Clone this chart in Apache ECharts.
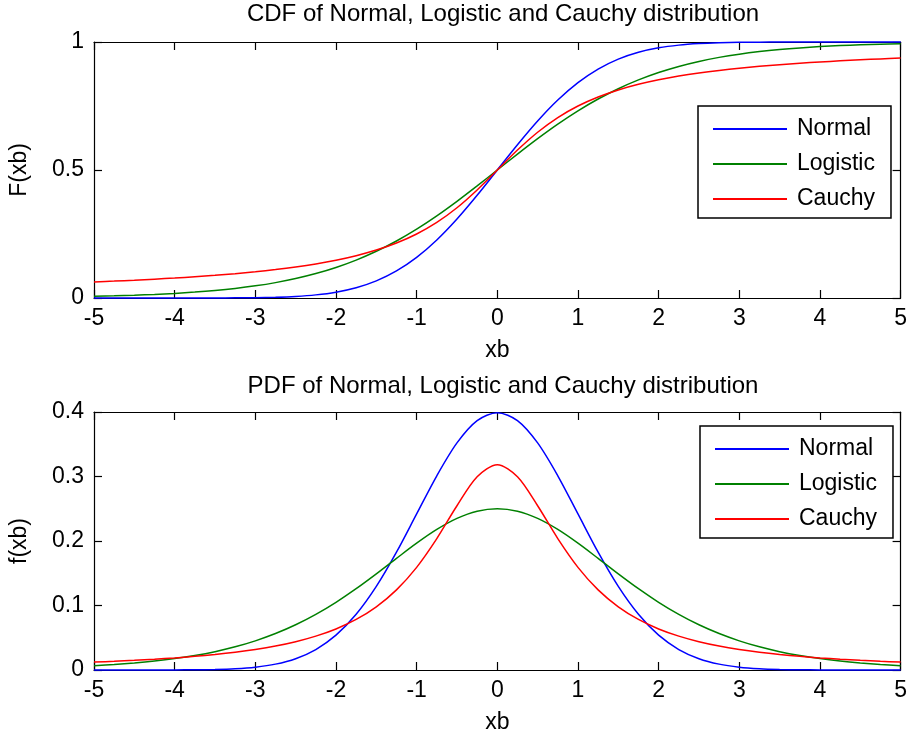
<!DOCTYPE html>
<html>
<head>
<meta charset="utf-8">
<script src="https://cdn.jsdelivr.net/npm/echarts@6/dist/echarts.min.js"></script>
<style>html,body{margin:0;padding:0;background:#fff}#c{width:910px;height:740px}</style>
</head>
<body>
<div id="c"></div>
<script>
// x values
var xs = [-5,-4.75,-4.5,-4.25,-4,-3.75,-3.5,-3.25,-3,-2.75,-2.5,-2.25,-2,-1.75,-1.5,-1.25,-1,-0.75,-0.5,-0.25,0,0.25,0.5,0.75,1,1.25,1.5,1.75,2,2.25,2.5,2.75,3,3.25,3.5,3.75,4,4.25,4.5,4.75,5];
// CDF values
var normalCdf = [0.0000003,0.000001,0.0000034,0.0000107,0.0000317,0.0000884,0.000233,0.000577,0.00135,0.00298,0.00621,0.01222,0.02275,0.04006,0.06681,0.10565,0.15866,0.22663,0.30854,0.40129,0.5,0.59871,0.69146,0.77337,0.84134,0.89435,0.93319,0.95994,0.97725,0.98778,0.99379,0.99702,0.99865,0.99942,0.99977,0.99991,0.99997,0.99999,1,1,1];
var logisticCdf = [0.00669,0.00858,0.01099,0.01406,0.01799,0.02298,0.02931,0.03732,0.04743,0.06009,0.07586,0.09535,0.11920,0.14805,0.18243,0.22270,0.26894,0.32082,0.37754,0.43782,0.5,0.56218,0.62246,0.67918,0.73106,0.77730,0.81757,0.85195,0.88080,0.90465,0.92414,0.93991,0.95257,0.96268,0.97069,0.97702,0.98201,0.98594,0.98901,0.99142,0.99331];
var cauchyCdf = [0.06283,0.06605,0.06960,0.07363,0.07798,0.08295,0.08859,0.09502,0.10242,0.11102,0.12112,0.13312,0.14758,0.16525,0.18717,0.21477,0.25,0.29517,0.35242,0.42202,0.5,0.57798,0.64758,0.70483,0.75,0.78523,0.81283,0.83475,0.85242,0.86688,0.87888,0.88898,0.89758,0.90498,0.91141,0.91705,0.92202,0.92637,0.93040,0.93395,0.93717];
// PDF values
var normalPdf = [0.0000015,0.000005,0.000016,0.00005,0.00013,0.00035,0.00087,0.00203,0.00443,0.00909,0.01753,0.03174,0.05399,0.08628,0.12952,0.18265,0.24197,0.30114,0.35207,0.38667,0.39894,0.38667,0.35207,0.30114,0.24197,0.18265,0.12952,0.08628,0.05399,0.03174,0.01753,0.00909,0.00443,0.00203,0.00087,0.00035,0.00013,0.00005,0.000016,0.000005,0.0000015];
var logisticPdf = [0.00665,0.00851,0.01087,0.01386,0.01766,0.02245,0.02845,0.03593,0.04518,0.05648,0.07010,0.08626,0.10499,0.12613,0.14915,0.17310,0.19661,0.21789,0.23500,0.24613,0.25,0.24613,0.23500,0.21789,0.19661,0.17310,0.14915,0.12613,0.10499,0.08626,0.07010,0.05648,0.04518,0.03593,0.02845,0.02245,0.01766,0.01386,0.01087,0.00851,0.00665];
var cauchyPdf = [0.01224,0.01351,0.01498,0.01670,0.01872,0.02113,0.02402,0.02753,0.03183,0.03717,0.04390,0.05251,0.06366,0.07835,0.09794,0.12422,0.15915,0.20372,0.25465,0.29959,0.31831,0.29959,0.25465,0.20372,0.15915,0.12422,0.09794,0.07835,0.06366,0.05251,0.04390,0.03717,0.03183,0.02753,0.02402,0.02113,0.01872,0.01670,0.01498,0.01351,0.01224];
var seriesNames = ['Normal','Logistic','Cauchy'];
var titles = ['CDF of Normal, Logistic and Cauchy distribution','PDF of Normal, Logistic and Cauchy distribution'];
var xTicks = {min:-5, max:5, interval:1};
var yTicksTop = {min:0, max:1, interval:0.5};
var yTicksBottom = {min:0, max:0.4, interval:0.1};

var FONT = '"Liberation Sans", Arial, sans-serif';
var FS = 23;
var colors = ['#0000ff','#008000','#ff0000'];

function pairs(vals){ return xs.map(function(x,i){ return [x, vals[i]]; }); }

function xAx(gi, pos, showLabel){
  return {
    type:'value', gridIndex:gi, position:pos, min:xTicks.min, max:xTicks.max, interval:xTicks.interval,
    name: showLabel ? 'xb' : '', nameLocation:'middle', nameGap:41,
    nameTextStyle:{fontFamily:FONT, fontSize:FS, color:'#000'},
    axisLine:{show:true, onZero:false, lineStyle:{color:'#000', width:1.2}},
    axisTick:{show:true, inside:true, length:8, lineStyle:{color:'#000', width:1.2}},
    axisLabel:{show:showLabel, fontFamily:FONT, fontSize:FS, color:'#000', margin:9},
    splitLine:{show:false}
  };
}
function yAx(gi, pos, t, name, showLabel){
  return {
    type:'value', gridIndex:gi, position:pos, min:t.min, max:t.max, interval:t.interval,
    name: showLabel ? name : '', nameLocation:'middle', nameGap:63,
    nameTextStyle:{fontFamily:FONT, fontSize:FS, color:'#000'},
    axisLine:{show:true, onZero:false, lineStyle:{color:'#000', width:1.2}},
    axisTick:{show:true, inside:true, length:8, lineStyle:{color:'#000', width:1.2}},
    axisLabel:{show:showLabel, fontFamily:FONT, fontSize:FS, color:'#000', margin:10},
    splitLine:{show:false}
  };
}
function legendFor(gi, left, top){
  return {
    orient:'vertical', left:left, top:top,
    data: seriesNames.map(function(n){ return {name:n}; }),
    icon:'rect', itemWidth:74, itemHeight:2, itemGap:12,
    padding:[11.5,16,7.5,15],
    backgroundColor:'#fff', borderColor:'#000', borderWidth:1.5,
    textStyle:{fontFamily:FONT, fontSize:FS, color:'#000', lineHeight:23, padding:[0,0,0,5]},
    selectedMode:false
  };
}
var cdfSets = [normalCdf, logisticCdf, cauchyCdf];
var pdfSets = [normalPdf, logisticPdf, cauchyPdf];
var series = [];
[cdfSets, pdfSets].forEach(function(sets, gi){
  sets.forEach(function(vals, i){
    series.push({
      type:'line', name:seriesNames[i], xAxisIndex:gi*2, yAxisIndex:gi*2,
      data:pairs(vals), smooth:0.3, showSymbol:false, symbol:'none',
      lineStyle:{color:colors[i], width:1.5}, itemStyle:{color:colors[i]},
      clip:false, silent:true, animation:false
    });
  });
});

var chart = echarts.init(document.getElementById('c'), null, {renderer:'canvas'});
chart.setOption({
  backgroundColor:'#fff',
  animation:false,
  title:[
    {text:titles[0], left:498, top:-3, textAlign:'center', textStyle:{fontFamily:FONT, fontSize:24, fontWeight:'normal', color:'#000'}},
    {text:titles[1], left:498, top:369, textAlign:'center', textStyle:{fontFamily:FONT, fontSize:24, fontWeight:'normal', color:'#000'}}
  ],
  legend:[legendFor(0, 698, 106), legendFor(1, 700, 426)],
  grid:[
    {left:93, top:42, width:810, height:256, containLabel:false},
    {left:93, top:412, width:809, height:258, containLabel:false}
  ],
  xAxis:[xAx(0,'bottom',true), xAx(0,'top',false), xAx(1,'bottom',true), xAx(1,'top',false)],
  yAxis:[yAx(0,'left',yTicksTop,'F(xb)',true), yAx(0,'right',yTicksTop,'',false), yAx(1,'left',yTicksBottom,'f(xb)',true), yAx(1,'right',yTicksBottom,'',false)],
  series:series
});
</script>
</body>
</html>
